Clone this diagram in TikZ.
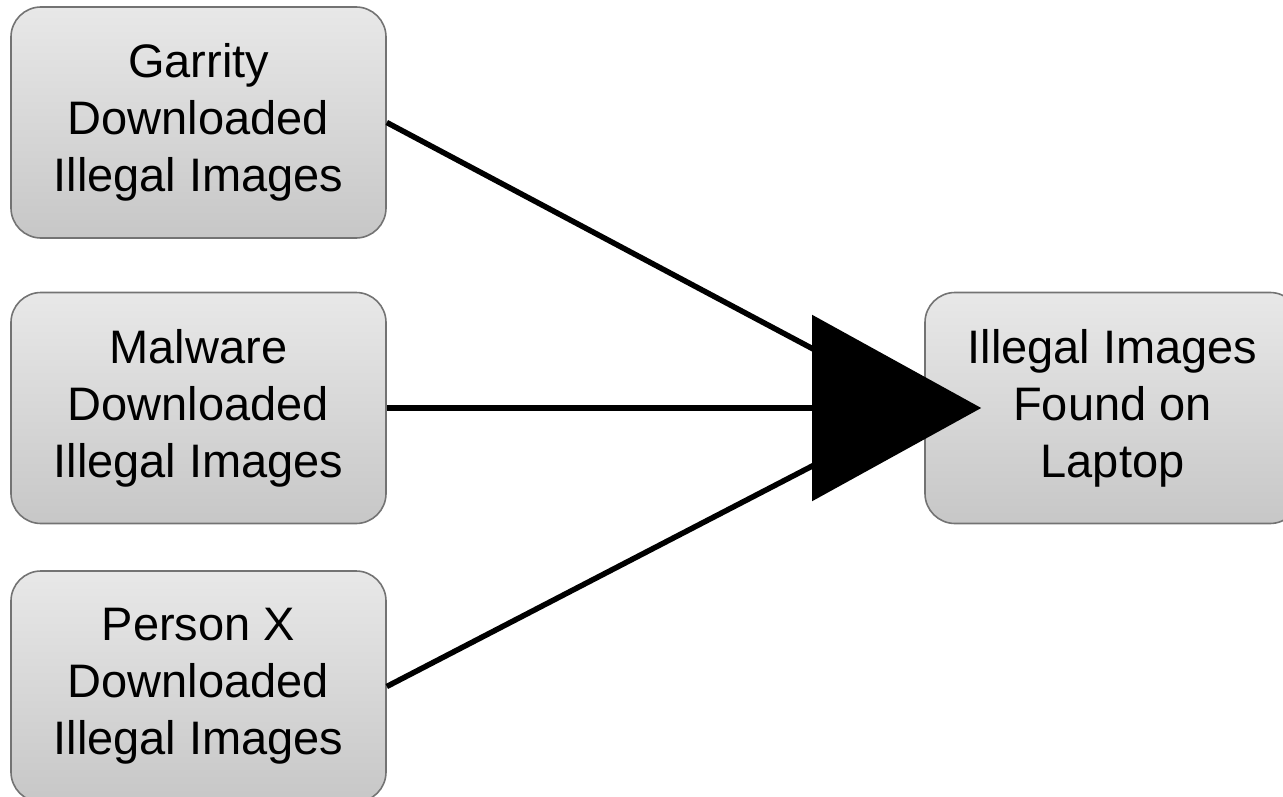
\documentclass[tikz,border=0pt]{standalone}
\usepackage{fontspec}
\setmainfont{Liberation Sans}
\usetikzlibrary{arrows.meta}
\begin{document}
\begin{tikzpicture}[x=1pt,y=-1pt,
  evbox/.style={draw=black!55, line width=1.6pt, rounded corners=30pt,
    top color=black!9, bottom color=black!22, minimum width=375pt,
    minimum height=231pt, inner sep=0pt, align=center,
    font=\fontsize{47}{57}\selectfont},
  link/.style={line width=5.5pt, black}]
\useasboundingbox (0,0) rectangle (1283,797);
\node[evbox] (g) at (198.5,122.5) {Garrity\\Downloaded\\Illegal Images};
\node[evbox] (m) at (198.5,408) {Malware\\Downloaded\\Illegal Images};
\node[evbox] (p) at (198.5,686.5) {Person X\\Downloaded\\Illegal Images};
\node[evbox] (r) at (1112.5,408) {Illegal Images\\Found on\\Laptop};
\draw[link] (g.east) -- (r.west);
\draw[link] (p.east) -- (r.west);
\draw[link, -{Triangle[length=169pt,width=185pt]}, shorten >=-57pt] (m.east) -- (r.west);
\end{tikzpicture}
\end{document}
